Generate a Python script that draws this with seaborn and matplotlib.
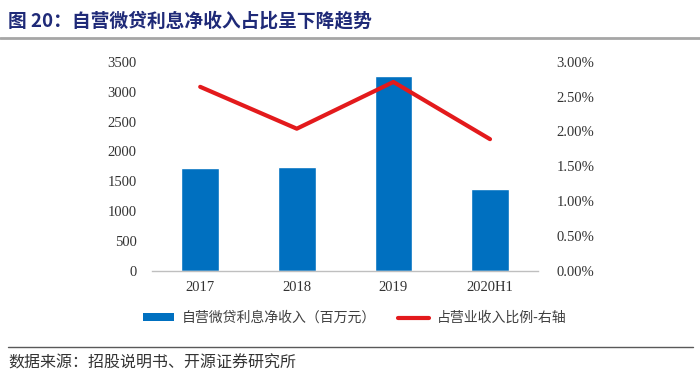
import numpy as np
import pandas as pd
import seaborn as sns
import matplotlib.pyplot as plt
from matplotlib.lines import Line2D
from matplotlib.patches import Patch
from matplotlib.ticker import FuncFormatter

# data
years = ["2017", "2018", "2019", "2020H1"]
net_interest = [1722, 1744, 3261, 1371]          # 百万元
share_pct = [2.64, 2.04, 2.71, 1.89]             # %

df = pd.DataFrame({"year": years, "income": net_interest, "share": share_pct})

sns.set_theme(style="white")
plt.rcParams["font.family"] = ["Liberation Serif", "Noto Sans CJK SC", "DejaVu Sans"]

fig = plt.figure(figsize=(7, 3.81), dpi=100)
ax = fig.add_axes([0.217, 0.2887, 0.552, 0.5493])

sns.barplot(data=df, x="year", y="income", color="#0070C0", saturation=1,
            width=0.39, ax=ax)
ax.set_xlim(-0.5, 3.5)
ax.set_ylim(0, 3500)
ax.set_yticks(np.arange(0, 3501, 500))
ax.set_xlabel("")
ax.set_ylabel("")
for s in ["top", "right", "left"]:
    ax.spines[s].set_visible(False)
ax.spines["bottom"].set_color("#BFBFBF")
ax.spines["bottom"].set_linewidth(1.0)
ax.tick_params(axis="both", length=0, labelsize=10.5, colors="#333333")
ax.tick_params(axis="x", pad=7)
ax.tick_params(axis="y", pad=11)

ax2 = ax.twinx()
sns.lineplot(x=np.arange(len(years)), y=share_pct, color="#E31A1C",
             linewidth=3.0, ax=ax2)
ax2.set_ylim(0, 3.0)
ax2.set_yticks(np.arange(0, 3.01, 0.5))
ax2.yaxis.set_major_formatter(FuncFormatter(lambda v, p: f"{v:.2f}%"))
for s in ["top", "right", "left", "bottom"]:
    ax2.spines[s].set_visible(False)
ax2.tick_params(axis="y", length=0, labelsize=10.5, colors="#333333", pad=13)
ax2.set_ylabel("")

# legend
handles = [Patch(facecolor="#0070C0", edgecolor="none"),
           Line2D([0], [0], color="#E31A1C", linewidth=3.0)]
labels = ["自营微贷利息净收入（百万元）", "占营业收入比例-右轴"]
fig.legend(handles, labels, loc="center", bbox_to_anchor=(0.507, 0.165),
           ncol=2, frameon=False, handlelength=2.2, handleheight=0.5,
           columnspacing=1.6, handletextpad=0.6,
           prop={"family": ["Noto Sans CJK SC"], "size": 10})
for t in fig.legends[0].get_texts():
    t.set_color("#404040")

# title and source
fig.text(0.012, 0.945, "图 20：自营微贷利息净收入占比呈下降趋势",
         fontsize=13.5, fontweight="bold", color="#1F2A78",
         family=["Noto Sans CJK SC", "DejaVu Sans"], va="center")
fig.add_artist(Line2D([0.0, 1.0], [0.9, 0.9], color="#A6A6A6", linewidth=2.0))
fig.add_artist(Line2D([0.012, 0.99], [0.09, 0.09], color="#595959", linewidth=1.0))
fig.text(0.012, 0.048, "数据来源：招股说明书、开源证券研究所", fontsize=11.5,
         color="#333333", family=["Noto Sans CJK SC", "DejaVu Sans"], va="center")

fig.savefig("out.png", dpi=100)
